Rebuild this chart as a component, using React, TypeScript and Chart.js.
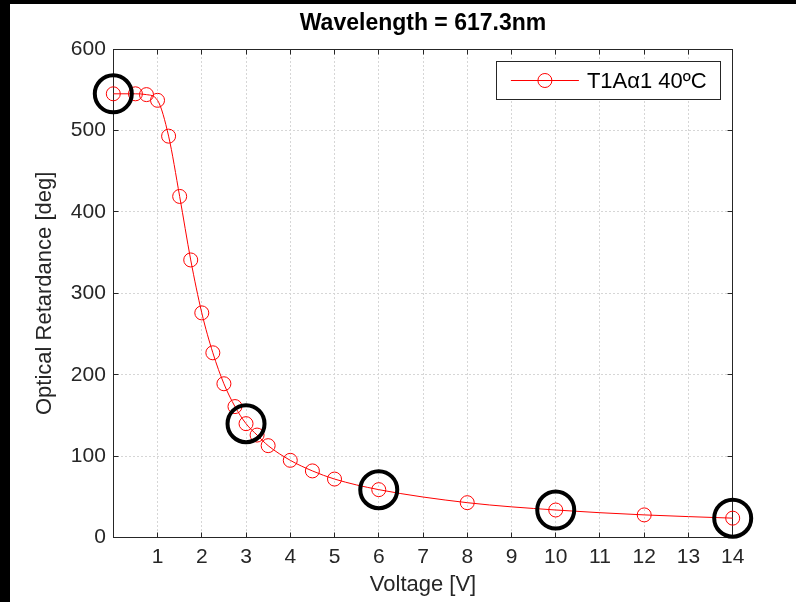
import { useEffect, useRef } from 'react';
import { Chart, registerables } from 'chart.js';

Chart.register(...registerables);

// Measured retardance curve
const voltage = [0, 0.5, 0.75, 1, 1.25, 1.5, 1.75, 2, 2.25, 2.5, 2.75, 3, 3.25, 3.5, 4, 4.5, 5, 6, 8, 10, 12, 14];
const retardance = [545, 545, 544, 537, 493, 419, 341, 276, 227, 189, 161, 140, 126, 113, 95, 82, 72, 59, 43, 34, 28, 24];

// Operating points highlighted with black rings
const ringVoltage = [0, 3, 6, 10, 14];
const ringRetardance = [545, 140, 59, 34, 24];

// Axis ticks
const xTicks = [0, 1, 2, 3, 4, 5, 6, 7, 8, 9, 10, 11, 12, 13, 14];
const yTicks = [0, 100, 200, 300, 400, 500, 600];

const seriesLabel = 'T1A\u03b11 40\u00baC';
const titleText = 'Wavelength = 617.3nm';
const xLabel = 'Voltage [V]';
const yLabel = 'Optical Retardance [deg]';

const FONT = '"Liberation Sans", Arial, Helvetica, sans-serif';
const AXIS_COLOR = '#262626';
const GRID_COLOR = '#d6d6d6';
const RED = '#ff0000';

const align = (p: number) => Math.round(p - 0.5) + 0.5;

// Box around the plot with inward tick marks on all four sides
const axesBox = {
  id: 'axesBox',
  beforeDatasetsDraw(chart: any) {
    const { ctx, chartArea, scales } = chart;
    const L = align(chartArea.left);
    const R = align(chartArea.right);
    const T = align(chartArea.top);
    const B = align(chartArea.bottom);
    const len = 5;
    ctx.save();
    ctx.strokeStyle = AXIS_COLOR;
    ctx.lineWidth = 1;
    ctx.beginPath();
    for (const t of scales.x.ticks) {
      const px = align(scales.x.getPixelForValue(t.value));
      ctx.moveTo(px, B);
      ctx.lineTo(px, B - len);
      ctx.moveTo(px, T);
      ctx.lineTo(px, T + len);
    }
    for (const t of scales.y.ticks) {
      const py = align(scales.y.getPixelForValue(t.value));
      ctx.moveTo(L, py);
      ctx.lineTo(L + len, py);
      ctx.moveTo(R, py);
      ctx.lineTo(R - len, py);
    }
    ctx.stroke();
    ctx.strokeRect(L, T, R - L, B - T);
    ctx.restore();
  },
};

// Legend box in the upper right corner of the plot
const boxLegend = {
  id: 'boxLegend',
  afterDraw(chart: any) {
    const { ctx, chartArea } = chart;
    const ds = chart.data.datasets.find((d: any) => d.label);
    if (!ds) return;
    ctx.save();
    ctx.font = `22px ${FONT}`;
    const tw = ctx.measureText(ds.label).width;
    const h = 37.6;
    const w = 14 + 68 + 8 + tw + 14;
    const right = chartArea.right - 12;
    const left = right - w;
    const top = chartArea.top + 12.7;
    const cy = top + h / 2;
    ctx.fillStyle = '#ffffff';
    ctx.fillRect(left, top, w, h);
    ctx.strokeStyle = AXIS_COLOR;
    ctx.lineWidth = 1;
    ctx.strokeRect(align(left), align(top), Math.round(w), Math.round(h));
    ctx.strokeStyle = ds.borderColor;
    ctx.lineWidth = ds.borderWidth;
    ctx.beginPath();
    ctx.moveTo(left + 14, cy);
    ctx.lineTo(left + 82, cy);
    ctx.stroke();
    ctx.beginPath();
    ctx.arc(left + 48, cy, ds.pointRadius, 0, Math.PI * 2);
    ctx.stroke();
    ctx.fillStyle = '#000000';
    ctx.textAlign = 'left';
    ctx.textBaseline = 'middle';
    ctx.fillText(ds.label, left + 90, cy + 1);
    ctx.restore();
  },
};

function RetardanceChart() {
  const canvasRef = useRef<HTMLCanvasElement | null>(null);

  useEffect(() => {
    if (!canvasRef.current) return;
    Chart.defaults.font.family = FONT;
    const chart = new Chart(canvasRef.current, {
      type: 'line',
      data: {
        datasets: [
          {
            label: seriesLabel,
            data: voltage.map((v, i) => ({ x: v, y: retardance[i] })),
            borderColor: RED,
            borderWidth: 1,
            backgroundColor: 'rgba(0,0,0,0)',
            pointRadius: 7,
            pointBorderWidth: 1,
            pointBorderColor: RED,
            pointBackgroundColor: 'rgba(0,0,0,0)',
            cubicInterpolationMode: 'monotone',
            fill: false,
            clip: false as any,
            order: 2,
          },
          {
            label: '',
            data: ringVoltage.map((v, i) => ({ x: v, y: ringRetardance[i] })),
            showLine: false,
            borderColor: '#000000',
            backgroundColor: 'rgba(0,0,0,0)',
            pointRadius: 18.5,
            pointBorderWidth: 4,
            pointBorderColor: '#000000',
            pointBackgroundColor: 'rgba(0,0,0,0)',
            clip: false as any,
            order: 1,
          },
        ],
      },
      options: {
        responsive: false,
        animation: false,
        devicePixelRatio: 1,
        layout: { padding: { left: 0, right: 63.3, top: 0, bottom: 0 } },
        plugins: {
          legend: { display: false },
          tooltip: { enabled: false },
          title: {
            display: true,
            fullSize: false,
            text: titleText,
            color: '#000000',
            font: { size: 23, weight: 'bold', family: FONT },
            padding: { top: 5.5, bottom: 11.9 },
          },
        },
        scales: {
          x: {
            type: 'linear',
            min: xTicks[0],
            max: xTicks[xTicks.length - 1],
            afterBuildTicks: (s: any) => {
              s.ticks = xTicks.map((value) => ({ value }));
            },
            afterFit: (s: any) => {
              s.height = 64.3;
            },
            ticks: {
              callback: (v: any) => (v === 0 ? '' : String(v)),
              color: AXIS_COLOR,
              font: { size: 21, family: FONT },
              padding: 7.2,
              maxRotation: 0,
              autoSkip: false,
            },
            grid: { color: GRID_COLOR, lineWidth: 1, drawTicks: false },
            border: { display: false, dash: [2, 2] },
            title: {
              display: true,
              text: xLabel,
              color: AXIS_COLOR,
              font: { size: 22, family: FONT },
              padding: { top: 0, bottom: 3.8 },
            },
          },
          y: {
            type: 'linear',
            min: yTicks[0],
            max: yTicks[yTicks.length - 1],
            afterBuildTicks: (s: any) => {
              s.ticks = yTicks.map((value) => ({ value }));
            },
            afterFit: (s: any) => {
              s.width = 103.3;
            },
            ticks: {
              color: AXIS_COLOR,
              font: { size: 21, family: FONT },
              padding: 7.4,
              autoSkip: false,
            },
            grid: { color: GRID_COLOR, lineWidth: 1, drawTicks: false },
            border: { display: false, dash: [2, 2] },
            title: {
              display: true,
              text: yLabel,
              color: AXIS_COLOR,
              font: { size: 22, family: FONT },
              padding: { top: 21.5, bottom: 0 },
            },
          },
        },
      } as any,
      plugins: [axesBox, boxLegend],
    });
    return () => chart.destroy();
  }, []);

  return <canvas ref={canvasRef} width={786} height={598} style={{ display: 'block' }} />;
}

export default function App() {
  return (
    <div style={{ position: 'absolute', left: 0, top: 0, width: 796, height: 602, background: '#000000' }}>
      <div style={{ position: 'absolute', left: 10, top: 4, width: 786, height: 598, background: '#ffffff' }}>
        <RetardanceChart />
      </div>
    </div>
  );
}
